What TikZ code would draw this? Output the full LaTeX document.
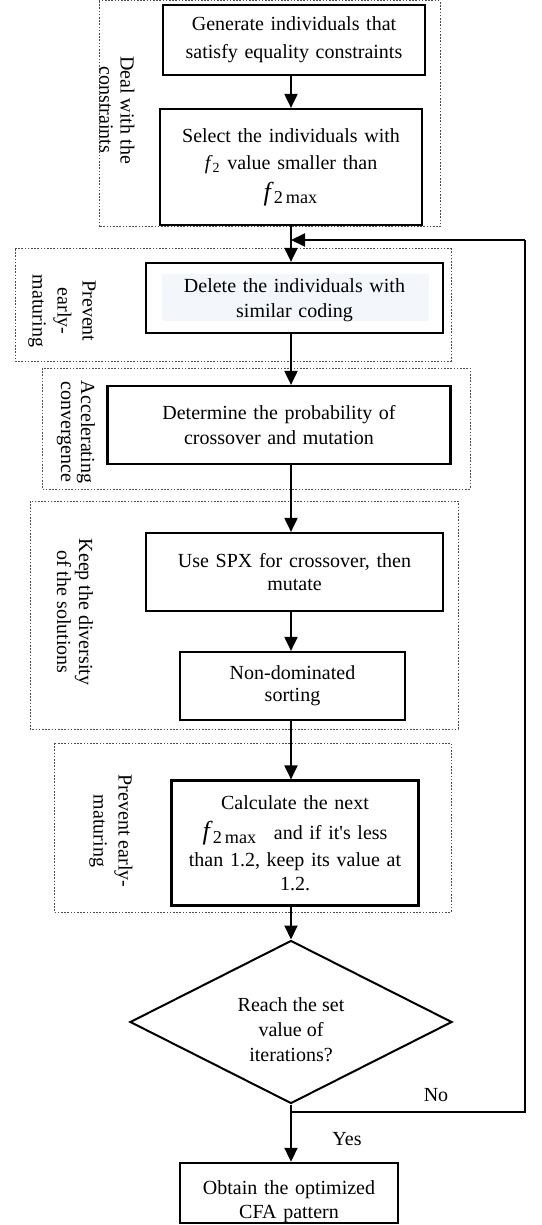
\documentclass[tikz,border=0pt]{standalone}
\usepackage{fontspec}
\setmainfont{Liberation Serif}
\usetikzlibrary{arrows.meta,shapes.geometric}
\definecolor{bgfill}{RGB}{243,246,250}
\newcommand{\ftwo}{\textit{f}\textsubscript{2}}
\newcommand{\ftwomax}{{\fontsize{13}{13}\selectfont\textit{f}\textsubscript{2\,max}}}
\begin{document}
\begin{tikzpicture}[x=0.5pt,y=-0.5pt,
  every node/.style={font=\fontsize{10}{12.3}\selectfont},
  pbox/.style={draw, line width=1.1pt, inner xsep=0pt, inner ysep=0pt, align=center},
  grp/.style={draw=black!70, line width=0.5pt, dash pattern=on 0.8pt off 0.8pt},
  glabel/.style={rotate=-90, align=center, inner sep=0pt},
  conn/.style={line width=1pt},
  arr/.style={conn, -{Triangle[length=7pt,width=6.5pt]}}]
\useasboundingbox (0,0) rectangle (541,1225);

% group frames
\draw[grp] (99,1) rectangle (440,227);
\draw[grp] (15,249) rectangle (451,361);
\draw[grp] (42,368) rectangle (470,489);
\draw[grp] (30,501) rectangle (458,729);
\draw[grp] (54,743) rectangle (451,912);

% light backdrop behind the text of the third box
\fill[bgfill] (162,274) rectangle (429,321);

% axis
\coordinate (ax) at (291,0);

% process boxes
\node[pbox, text width=131pt, minimum height=35pt, font=\fontsize{10}{14}\selectfont] (b1) at (294,40)
  {Generate individuals that\\satisfy equality constraints};
\node[pbox, text width=131pt, minimum height=58pt, font=\fontsize{10}{13.5}\selectfont] (b2) at (291,167)
  {Select the individuals with\\\ftwo{} value smaller than\\[2pt]\ftwomax};
\node[pbox, text width=148.5pt, minimum height=35pt] (b3) at (294.5,298)
  {\rule{0pt}{9pt}Delete the individuals with\\similar coding};
\node[pbox, text width=171.5pt, minimum height=39pt] (b4) at (279,425)
  {Determine the probability of\\crossover and mutation};
\node[pbox, text width=148.5pt, minimum height=39pt, font=\fontsize{10}{11.8}\selectfont] (b5) at (294.5,572)
  {Use SPX for crossover, then\\mutate};
\node[pbox, text width=112.5pt, minimum height=34pt, font=\fontsize{10}{11}\selectfont] (b6) at (292.5,686)
  {Non-dominated\\sorting};
\node[pbox, text width=123.5pt, minimum height=62.5pt, font=\fontsize{10}{12}\selectfont] (b7) at (295,843)
  {Calculate the next\\[3pt]\ftwomax\hspace{5pt} and if it\textquotesingle s less\\[1.5pt]than 1.2, keep its value at\\1.2.};
\node[draw, line width=1pt, diamond, aspect=2, minimum width=161pt, minimum height=81.5pt,
  inner sep=0pt, align=center, font=\fontsize{10}{12.5}\selectfont] (dia) at (291,1022)
  {\rule{0pt}{15pt}Reach the set\\value of\\iterations?};
\node[pbox, text width=109pt, minimum height=30pt, font=\fontsize{10}{12}\selectfont] (b8) at (289,1193)
  {\rule{0pt}{16pt}Obtain the optimized\\CFA pattern};

% group labels
\node[glabel, font=\fontsize{10}{10.5}\selectfont] (l1) at (117,110) {Deal with the\\constraints};
\node[glabel, font=\fontsize{10}{12.5}\selectfont] (l2) at (62,311) {Prevent\\early-\\maturing};
\node[glabel, font=\fontsize{10}{10}\selectfont] (l3) at (76,432) {Accelerating\\convergence};
\node[glabel, font=\fontsize{10}{11}\selectfont] (l4) at (75,612) {Keep the diversity\\of the solutions};
\node[glabel, font=\fontsize{10}{12.5}\selectfont] (l5) at (111,831) {Prevent early-\\maturing};

% loop coordinates
\coordinate (jn) at (291,1112);
\coordinate (rc1) at (525,1112);
\coordinate (rc2) at (525,240);
\coordinate (mg) at (291,240);

% connectors
\draw[arr] (b1.south -| ax) -- (b2.north -| ax);
\draw[arr] (b2.south -| ax) -- (b3.north -| ax);
\draw[arr] (b3.south -| ax) -- (b4.north -| ax);
\draw[arr] (b4.south -| ax) -- (b5.north -| ax);
\draw[arr] (b5.south -| ax) -- (b6.north -| ax);
\draw[arr] (b6.south -| ax) -- (b7.north -| ax);
\draw[arr] (b7.south -| ax) -- (dia.north);
\draw[arr] (dia.south) -- (b8.north -| ax);
\draw[conn] (dia.south) -- (jn) -- (rc1) -- (rc2);
\draw[arr] (rc2) -- (mg);

\node (no) at (436,1095) {No};
\node (yes) at (347,1139) {Yes};
\end{tikzpicture}
\end{document}
